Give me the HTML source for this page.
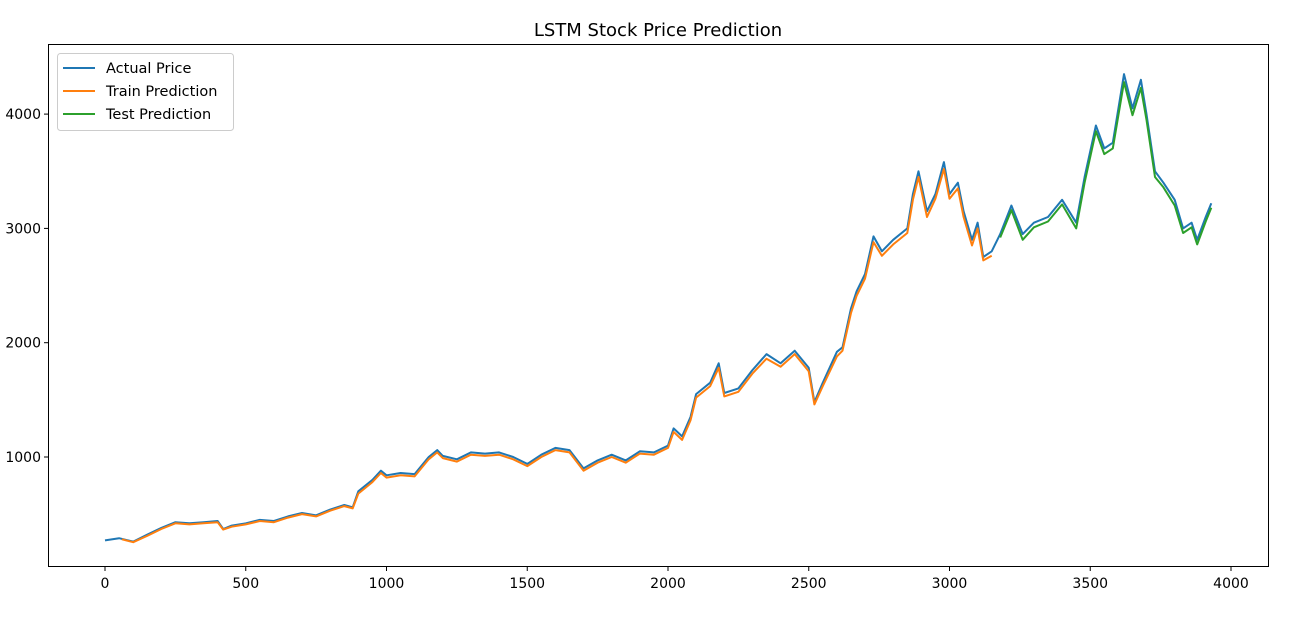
<!DOCTYPE html>
<html><head><meta charset="utf-8"><style>
body{margin:0;background:#fff;}
svg{display:block;font-family:"DejaVu Sans","Liberation Sans",sans-serif;}
</style></head><body>
<svg id="chart" width="1311" height="618" viewBox="0 0 1311 618" xmlns="http://www.w3.org/2000/svg">
<text x="658" y="36" font-size="18" text-anchor="middle" fill="#000">LSTM Stock Price Prediction</text>
<g id="plot"></g>
<rect x="48.5" y="44.5" width="1220" height="522" fill="none" stroke="#000" stroke-width="1"/>
<g id="axes"></g>
<g>
<rect x="57.5" y="53.5" width="176" height="77" rx="3" fill="#fff" fill-opacity="0.85" stroke="#ccc"/>
<line x1="63" y1="68" x2="95" y2="68" stroke="#1f77b4" stroke-width="2"/>
<text x="106" y="73" font-size="14.5">Actual Price</text>
<line x1="63" y1="91" x2="95" y2="91" stroke="#ff7f0e" stroke-width="2"/>
<text x="106" y="96" font-size="14.5">Train Prediction</text>
<line x1="63" y1="114" x2="95" y2="114" stroke="#2ca02c" stroke-width="2"/>
<text x="106" y="119" font-size="14.5">Test Prediction</text>
</g>
</svg>
<script>
const actualIdx=[0,50,100,150,200,250,300,350,400,420,450,500,550,600,650,700,750,800,850,880,900,950,980,1000,1050,1100,1150,1180,1200,1250,1300,1350,1400,1450,1500,1550,1600,1650,1700,1750,1800,1850,1900,1950,2000,2020,2050,2080,2100,2150,2180,2200,2250,2300,2350,2400,2450,2500,2520,2550,2600,2620,2650,2670,2700,2730,2760,2800,2850,2870,2890,2920,2950,2980,3000,3030,3050,3080,3100,3120,3150,3180,3220,3260,3300,3350,3400,3450,3480,3520,3550,3580,3620,3650,3680,3700,3730,3760,3800,3830,3860,3880,3910,3930];
const actualVal=[270,290,260,320,380,430,420,430,440,370,400,420,450,440,480,510,490,540,580,560,700,800,880,840,860,850,1000,1060,1010,980,1040,1030,1040,1000,940,1020,1080,1060,900,970,1020,970,1050,1040,1100,1250,1180,1350,1550,1650,1820,1560,1600,1760,1900,1820,1930,1780,1480,1650,1920,1960,2300,2450,2600,2930,2800,2900,3000,3300,3500,3150,3300,3580,3300,3400,3150,2900,3050,2750,2800,2950,3200,2950,3050,3100,3250,3050,3450,3900,3700,3750,4350,4050,4300,4000,3500,3400,3250,3000,3050,2900,3100,3220];
const trainIdx=[60,100,150,200,250,300,350,400,420,450,500,550,600,650,700,750,800,850,880,900,950,980,1000,1050,1100,1150,1180,1200,1250,1300,1350,1400,1450,1500,1550,1600,1650,1700,1750,1800,1850,1900,1950,2000,2020,2050,2080,2100,2150,2180,2200,2250,2300,2350,2400,2450,2500,2520,2550,2600,2620,2650,2670,2700,2730,2760,2800,2850,2870,2890,2920,2950,2980,3000,3030,3050,3080,3100,3120,3150];
const trainVal=[280,255,310,370,420,410,420,430,365,390,410,440,430,470,500,480,530,570,550,680,780,860,820,840,830,980,1040,990,960,1020,1010,1020,980,920,1000,1060,1040,880,950,1000,950,1030,1020,1080,1220,1150,1320,1520,1620,1780,1530,1570,1730,1860,1790,1900,1750,1460,1620,1880,1930,2260,2410,2560,2880,2760,2860,2960,3250,3450,3100,3260,3520,3260,3350,3100,2850,3000,2720,2760];
const testIdx=[3180,3220,3260,3300,3350,3400,3450,3480,3520,3550,3580,3620,3650,3680,3700,3730,3760,3800,3830,3860,3880,3910,3930];
const testVal=[2920,3160,2900,3010,3060,3210,3000,3400,3850,3650,3700,4280,3990,4230,3950,3450,3360,3200,2960,3010,2860,3060,3180];
const yTicks=[1000,2000,3000,4000];
const xTicks=[0,500,1000,1500,2000,2500,3000,3500,4000];
const NS="http://www.w3.org/2000/svg";
const sx=v=>105+v*0.2815;
const sy=v=>457-(v-1000)*0.1143;
const plot=document.getElementById('plot'),axes=document.getElementById('axes');
function line(idx,val,color,name){
  const p=document.createElementNS(NS,'polyline');
  p.setAttribute('points',idx.map((x,i)=>sx(x).toFixed(1)+','+sy(val[i]).toFixed(1)).join(' '));
  p.setAttribute('fill','none');p.setAttribute('stroke',color);p.setAttribute('stroke-width','2');p.setAttribute('stroke-linejoin','round');
  
  
  plot.appendChild(p);
}
line(actualIdx,actualVal,'#1f77b4','actual-price-line');
line(trainIdx,trainVal,'#ff7f0e','train-prediction-line');
line(testIdx,testVal,'#2ca02c','test-prediction-line');
yTicks.forEach(v=>{
  const y=sy(v);
  const t=document.createElementNS(NS,'line');
  t.setAttribute('x1',44);t.setAttribute('x2',48);t.setAttribute('y1',y);t.setAttribute('y2',y);t.setAttribute('stroke','#000');
  
  
  axes.appendChild(t);
  const l=document.createElementNS(NS,'text');
  l.setAttribute('x',41);l.setAttribute('y',y+5);l.setAttribute('text-anchor','end');l.setAttribute('font-size','14');
  l.textContent=v;
  
  
  axes.appendChild(l);
});
xTicks.forEach(v=>{
  const x=sx(v);
  const t=document.createElementNS(NS,'line');
  t.setAttribute('x1',x);t.setAttribute('x2',x);t.setAttribute('y1',567);t.setAttribute('y2',571);t.setAttribute('stroke','#000');
  
  
  axes.appendChild(t);
  const l=document.createElementNS(NS,'text');
  l.setAttribute('x',x);l.setAttribute('y',588);l.setAttribute('text-anchor','middle');l.setAttribute('font-size','14');
  l.textContent=v;
  
  
  axes.appendChild(l);
});
</script>
</body></html>
